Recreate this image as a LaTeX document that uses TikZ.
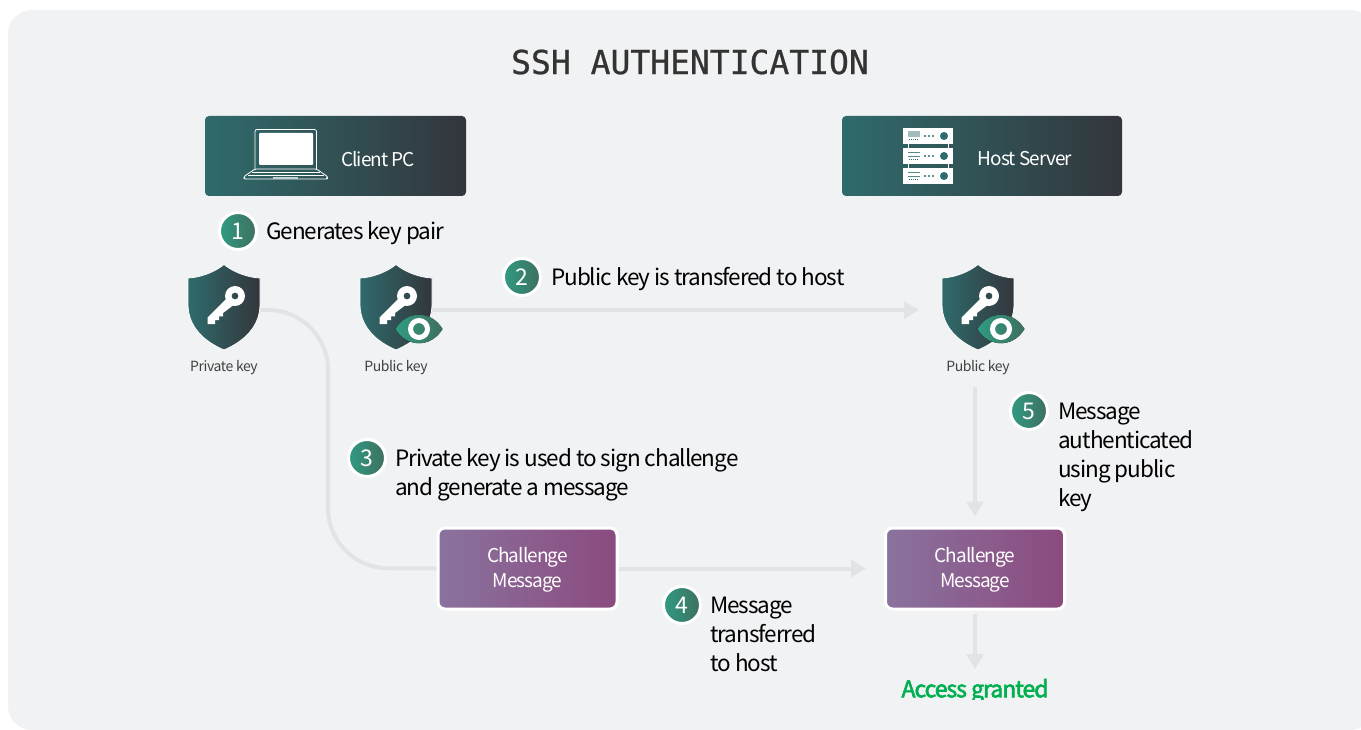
\documentclass[tikz,border=0pt]{standalone}
\usepackage{fontspec}
\setmainfont{Noto Sans CJK SC}
\newfontfamily\titlefont[FakeBold=0.7]{DejaVu Sans Mono}
\newfontfamily\stepfont[LetterSpace=-4.5]{Noto Sans CJK SC}
\newfontfamily\boxfont[LetterSpace=-5]{Noto Sans CJK SC}
\newfontfamily\keyfont[LetterSpace=-3]{Noto Sans CJK SC}
\newfontfamily\grantfont[LetterSpace=-4.5,FakeBold=2.5]{Noto Sans CJK SC}
\usetikzlibrary{arrows.meta}
\definecolor{panelgrey}{HTML}{F1F2F4}
\definecolor{flowgrey}{HTML}{E2E3E7}
\definecolor{tealdark}{HTML}{2F6B6C}
\definecolor{slatedark}{HTML}{33363C}
\definecolor{plumleft}{HTML}{8A739F}
\definecolor{plumright}{HTML}{8B4A7E}
\definecolor{badgeleft}{HTML}{2F9B82}
\definecolor{badgeright}{HTML}{3F6F60}
\definecolor{grantgreen}{HTML}{00B050}
\tikzset{
	flow/.style={line width=4pt, color=flowgrey},
	flowarrow/.style={flow, -{Triangle[width=17pt,length=15pt]}},
	hostbox/.style={draw=none, left color=tealdark, right color=slatedark, rounded corners=4pt, minimum width=261pt, minimum height=80pt, inner sep=0pt},
	msgbox/.style={draw=white, line width=3pt, left color=plumleft, right color=plumright, rounded corners=7pt, minimum width=179pt, minimum height=81pt, inner sep=0pt},
	msglabel/.style={align=center, text=white, inner sep=0pt, font=\boxfont\fontsize{19}{25}\selectfont},
	badge/.style={circle, draw=white, line width=3pt, left color=badgeleft, right color=badgeright, minimum size=37pt, inner sep=0pt, text=white, font=\fontsize{23}{23}\selectfont},
	steptext/.style={anchor=west, align=left, inner sep=0pt, text=black, font=\stepfont\fontsize{22.5}{29}\selectfont},
	keylabel/.style={text=black!75, inner sep=0pt, font=\keyfont\fontsize{14}{14}\selectfont},
	boxlabel/.style={text=white, inner sep=0pt, font=\boxfont\fontsize{19}{19}\selectfont}
}
% shield with key, top point at #1,#2
\def\keyshield(#1,#2){
	\begin{scope}[shift={(#1,#2)}]
		\draw[draw=white, line width=0.8pt, left color=tealdark, right color=slatedark] (0, 0) .. controls (-10, 8) and (-24, 13) .. (-36, 13.5) -- (-36, 40) .. controls (-36, 62) and (-20, 77) .. (0, 85.5) .. controls (20, 77) and (36, 62) .. (36, 40) -- (36, 13.5) .. controls (24, 13) and (10, 8) .. (0, 0) -- cycle;
		\fill[white, even odd rule] (11, 31.5) circle (10) (11, 31.5) circle (3.5);
		\fill[white] (1.7, 35) -- (-16.3, 52.8) -- (-16.3, 59.5) -- (-9, 59.5) -- (-9, 55.5) -- (-5, 55.5) -- (-5, 52) -- (-1, 52) -- (-1, 48.5) -- (11, 39.5) -- cycle;
	\end{scope}
}
% eye on top of the shield
\def\keyeye(#1,#2){
	\begin{scope}[shift={(#1,#2)}]
		\fill[left color=badgeleft, right color=badgeright] (-23.5, 0) .. controls (-12, -19) and (12, -19) .. (23.5, 0) .. controls (12, 19) and (-12, 19) .. (-23.5, 0) -- cycle;
		\draw[white, line width=5pt] (0, 0) circle (8.5);
	\end{scope}
}
\begin{document}
\begin{tikzpicture}[x=1pt, y=-1pt]
	\useasboundingbox (0, 0) rectangle (1361, 730);
	\fill[white] (0, 0) rectangle (1361, 730);
	\begin{scope}
		\clip (0, 0) rectangle (1361, 730);
		\fill[panelgrey] (8, 10) [rounded corners=24pt] -- (1374, 10) -- (1374, 730) -- (8, 730) -- cycle;
	\end{scope}

	\node[font=\titlefont\fontsize{33}{33}\selectfont, text=black!80, inner sep=0pt] (title) at (690, 62) {SSH AUTHENTICATION};

	%%%%% hosts %%%%%
	\node[hostbox] (client) at (335.5, 156) {};
	\node[boxlabel] (clientlabel) at (378, 159) {Client PC};
	\node[hostbox, minimum width=280pt] (server) at (982, 156) {};
	\node[boxlabel] (serverlabel) at (1025, 159) {Host Server};

	% laptop
	\draw[white, line width=0.8pt, rounded corners=2pt] (255, 169) -- (255, 129.5) -- (316.5, 129.5) -- (316.5, 169);
	\fill[white, rounded corners=1pt] (259, 133) rectangle (313, 165);
	\draw[white, line width=0.8pt, rounded corners=1.5pt] (255, 169) -- (316.5, 169) -- (327.5, 176.5) -- (327.5, 179) -- (244, 179) -- (244, 176.5) -- cycle;
	\draw[white, line width=0.6pt] (252, 172) -- (320, 172) (248, 175) -- (324, 175);
	\fill[white!70!tealdark] (273, 177) rectangle (298, 179);

	% server rack
	\draw[white, line width=0.6pt] (908, 144) -- (908, 169) (948, 144) -- (948, 169);
	\foreach \racky in {128, 148, 168} {
		\fill[white] (903, \racky) rectangle (952.5, \racky + 16);
		\draw[tealdark!80!white, line width=0.7pt] (908, \racky + 4) -- (920, \racky + 4) (908, \racky + 8) -- (920, \racky + 8);
		\draw[tealdark, line width=1.5pt, dash pattern=on 1pt off 1pt] (909, \racky + 11.5) -- (919, \racky + 11.5);
		\fill[tealdark] (925, \racky + 8) circle (1.1) (929, \racky + 8) circle (1.1) (933, \racky + 8) circle (1.1);
		\fill[tealdark] (944, \racky + 8) circle (4);
	}
	\fill[tealdark!45!white] (908, 131.5) rectangle (920, 137.5);

	%%%%% connectors first, so the shields sit on top %%%%%
	\coordinate (privkey) at (258, 310);
	\coordinate (pubkey) at (430, 310);
	\coordinate (hostkey) at (919, 310);
	\coordinate (turn) at (328, 568);
	\coordinate (hostkeylow) at (975, 387);
	\coordinate (grantend) at (975, 669);

	\node[msgbox] (msgclient) at (527.5, 568.5) {};
	\node[msgbox] (msghost) at (975, 568.5) {};
	\node[msglabel] (msgclientlabel) at (527.5, 569.5) {Challenge\\Message};
	\node[msglabel] (msghostlabel) at (975, 569.5) {Challenge\\Message};

	\draw[flow, rounded corners=60pt] (privkey) -| (turn) -- (msgclient.west);
	\draw[flowarrow] (msgclient.east) -- ([xshift=-18pt]msghost.west);
	\draw[flowarrow] (pubkey) -- (hostkey);
	\draw[flowarrow] (hostkeylow) -- ([yshift=10pt]msghost.north);
	\draw[flowarrow] (msghost.south) ++(0, 3) -- (grantend);

	%%%%% keys %%%%%
	\keyshield(224, 264.5)
	\keyshield(396, 264.5)
	\keyeye(419, 329)
	\keyshield(978, 264.5)
	\keyeye(1001, 329)
	\node[keylabel] (privatelabel) at (224, 367.5) {Private key};
	\node[keylabel] (publiclabel) at (396, 367.5) {Public key};
	\node[keylabel] (hostkeylabel) at (978, 367.5) {Public key};

	%%%%% steps %%%%%
	\node[badge] (one) at (238, 231) {1};
	\node[steptext] (onetext) at (266, 233) {Generates key pair};
	\node[badge] (two) at (522, 277) {2};
	\node[steptext] (twotext) at (551, 279) {Public key is transfered to host};
	\node[badge] (three) at (367, 458) {3};
	\node[steptext] (threetext) at (395, 474.5) {Private key is used to sign challenge\\and generate a message};
	\node[badge] (four) at (682, 605) {4};
	\node[steptext] (fourtext) at (710, 634.5) {Message\\transferred\\to host};
	\node[badge] (five) at (1029, 411) {5};
	\node[steptext] (fivetext) at (1058, 457) {Message\\authenticated\\using public\\key};

	% descenders are cut off in the picture
	\begin{scope}
		\clip (880, 670) rectangle (1070, 699);
		\node[text=grantgreen, inner sep=0pt, font=\grantfont\fontsize{23}{23}\selectfont] (granted) at (975, 691) {Access granted};
	\end{scope}
\end{tikzpicture}
\end{document}
